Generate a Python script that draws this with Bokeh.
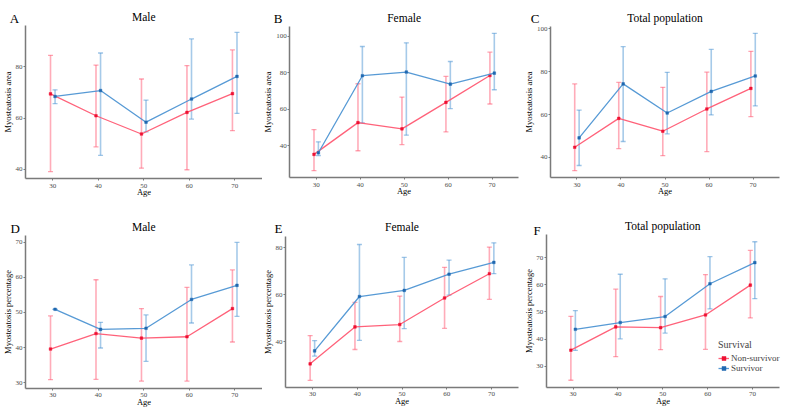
from bokeh.plotting import figure
from bokeh.models import Range1d, Whisker, TeeHead, Label, Legend, LegendItem, FixedTicker, ColumnDataSource
from bokeh.transform import dodge
from bokeh.layouts import column, row
from bokeh.embed import file_html
from bokeh.resources import INLINE

ages = [30, 40, 50, 60, 70]
series_names = ["Non-survivor", "Survivor"]

# A: Male, myosteatosis area
a_ns_mean = [69.4, 60.9, 53.8, 62.2, 69.5]
a_ns_lo = [39.2, 48.8, 40.5, 39.9, 55.1]
a_ns_hi = [84.4, 80.6, 75.2, 80.4, 86.5]
a_s_mean = [68.4, 70.7, 58.4, 67.4, 76.2]
a_s_lo = [65.6, 45.5, 54.6, 59.6, 61.8]
a_s_hi = [71.0, 85.3, 67.0, 90.8, 93.3]

# B: Female, myosteatosis area
b_ns_mean = [35.3, 52.7, 49.3, 63.8, 78.5]
b_ns_lo = [26.4, 37.3, 40.7, 47.6, 62.9]
b_ns_hi = [48.9, 74.0, 66.7, 78.0, 91.3]
b_s_mean = [36.2, 78.4, 80.4, 73.8, 79.8]
b_s_lo = [34.7, 52.5, 45.8, 60.4, 70.7]
b_s_hi = [42.2, 94.4, 96.4, 86.2, 101.6]

# C: Total population, myosteatosis area
c_ns_mean = [44.7, 58.2, 52.2, 62.6, 72.2]
c_ns_lo = [33.8, 44.1, 40.8, 42.7, 59.0]
c_ns_hi = [74.3, 75.0, 72.7, 79.8, 89.5]
c_s_mean = [49.1, 74.3, 60.7, 70.8, 78.0]
c_s_lo = [36.2, 47.4, 51.0, 59.8, 64.0]
c_s_hi = [62.1, 91.7, 79.7, 90.4, 97.9]

# D: Male, myosteatosis percentage
d_ns_mean = [39.6, 44.0, 42.7, 43.1, 51.1]
d_ns_lo = [30.9, 31.0, 30.5, 30.5, 41.6]
d_ns_hi = [49.0, 59.3, 51.1, 57.1, 62.1]
d_s_mean = [50.9, 45.2, 45.5, 53.7, 57.7]
d_s_lo = [50.9, 39.9, 36.1, 47.0, 48.9]
d_s_hi = [50.9, 47.2, 49.3, 63.5, 69.9]

# E: Female, myosteatosis percentage
e_ns_mean = [30.6, 46.3, 47.3, 58.6, 68.9]
e_ns_lo = [23.6, 36.7, 40.1, 45.7, 58.0]
e_ns_hi = [42.6, 56.7, 59.4, 71.6, 80.2]
e_s_mean = [36.1, 59.2, 61.8, 68.7, 73.7]
e_s_lo = [33.9, 40.6, 45.6, 59.8, 68.9]
e_s_hi = [40.5, 81.3, 75.8, 74.7, 82.0]

# F: Total population, myosteatosis percentage
f_ns_mean = [35.9, 44.5, 44.2, 48.9, 59.9]
f_ns_lo = [24.8, 33.5, 36.1, 36.2, 47.8]
f_ns_hi = [48.4, 58.4, 55.7, 63.8, 72.7]
f_s_mean = [43.6, 46.1, 48.3, 60.4, 68.2]
f_s_lo = [35.8, 40.1, 42.2, 51.1, 54.9]
f_s_hi = [50.5, 63.9, 62.2, 70.4, 75.9]

ticks_area_a = [40, 60, 80]
ticks_area_bc = [40, 60, 80, 100]
ticks_pct_df = [30, 40, 50, 60, 70]
ticks_pct_e = [40, 60, 80]

X_LO, X_HI = 24, 76          # panel x extent (age)
FONT = "Liberation Serif"
LINE_COLORS = ["#FF5A73", "#4E95D3"]
PT_COLORS = ["#EE1133", "#2068B0"]
OFFSETS = [-0.5, 0.5]


def make_panel(letter, title, ylabel, yticks, ns, s, W, H, box, title_y, letter_xy,
               legend_loc=None):
    # box = (left, right, top, bottom) of the data panel in local pixels
    L, R, T, B = box
    vals = ns[1] + ns[2] + s[1] + s[2]
    lo, hi = min(vals), max(vals)
    pad = 0.05 * (hi - lo)
    y_lo, y_hi = lo - pad, hi + pad
    kx = (X_HI - X_LO) / (R - L)
    ky = (y_hi - y_lo) / (B - T)
    p = figure(width=W, height=H,
               x_range=Range1d(X_LO - L * kx, X_HI + (W - R) * kx),
               y_range=Range1d(y_lo - (H - B) * ky, y_hi + T * ky),
               output_backend="svg", toolbar_location=None, title_location=None,
               min_border=0, min_border_left=0, min_border_right=0,
               min_border_top=0, min_border_bottom=0)
    p.outline_line_color = None
    p.background_fill_color = "white"
    p.border_fill_color = "white"
    p.xgrid.visible = False
    p.ygrid.visible = False

    for ax in (p.xaxis[0], p.yaxis[0]):
        ax.axis_line_color = "#7A7A7A"
        ax.axis_line_width = 1.5
        ax.major_tick_line_color = "#7A7A7A"
        ax.major_tick_out = 2
        ax.major_tick_in = 0
        ax.minor_tick_line_color = None
        ax.major_label_text_font = FONT
        ax.major_label_text_font_size = "7px"
        ax.major_label_text_color = "#4D4D4D"
        ax.axis_label_text_font = FONT
        ax.axis_label_text_font_size = "8.5px"
        ax.axis_label_text_font_style = "normal"
        ax.axis_label_text_color = "black"
    xa, ya = p.xaxis[0], p.yaxis[0]
    xa.ticker = FixedTicker(ticks=ages)
    ya.ticker = FixedTicker(ticks=yticks)
    xa.axis_label = "Age"
    ya.axis_label = ylabel
    xa.fixed_location = y_lo
    xa.bounds = (X_LO, X_HI)
    ya.fixed_location = X_LO
    ya.bounds = (y_lo, y_hi)
    xa.major_label_standoff = 3
    xa.axis_label_standoff = -4
    ya.major_label_standoff = 1
    ya.axis_label_standoff = 0

    items = []
    for (mean, low, high), name, lc, pc, off in zip((ns, s), series_names,
                                                    LINE_COLORS, PT_COLORS, OFFSETS):
        src = ColumnDataSource(dict(age=ages, mean=mean, lo=low, hi=high))
        xs = dodge("age", off)
        w = Whisker(source=src, base=xs, lower="lo", upper="hi",
                    line_color=lc, line_alpha=0.5, line_width=1.6,
                    upper_head=TeeHead(size=5, line_color=lc, line_alpha=0.55, line_width=1.3),
                    lower_head=TeeHead(size=5, line_color=lc, line_alpha=0.55, line_width=1.3))
        p.add_layout(w)
        lr = p.line(x=xs, y="mean", source=src, line_color=lc, line_width=1.3, line_alpha=0.95)
        sr = p.scatter(x=xs, y="mean", source=src, marker="square", size=2.6,
                       fill_color=pc, line_color=pc, line_width=0.5)
        items.append(LegendItem(label=name, renderers=[lr, sr]))

    p.add_layout(Label(x=(L + R) / 2, y=H - title_y, x_units="screen", y_units="screen",
                       text=title, text_font=FONT, text_font_size="11.5px",
                       text_color="black", text_align="center", text_baseline="middle"))
    p.add_layout(Label(x=letter_xy[0], y=H - letter_xy[1], x_units="screen", y_units="screen",
                       text=letter, text_font=FONT, text_font_size="13px",
                       text_color="black", text_align="center", text_baseline="middle"))

    if legend_loc is not None:
        lg = Legend(items=items, location=legend_loc, title="Survival")
        lg.background_fill_color = "white"
        lg.background_fill_alpha = 1.0
        lg.border_line_color = None
        lg.title_text_font = FONT
        lg.title_text_font_size = "10px"
        lg.title_text_font_style = "normal"
        lg.title_standoff = 3
        lg.label_text_font = FONT
        lg.label_text_font_size = "9px"
        lg.glyph_width = 11
        lg.glyph_height = 10
        lg.label_height = 10
        lg.label_standoff = 2
        lg.spacing = 0
        lg.padding = 6
        lg.margin = 0
        p.add_layout(lg)
    return p


pA = make_panel("A", "Male", "Myosteatosis area", ticks_area_a,
                (a_ns_mean, a_ns_lo, a_ns_hi), (a_s_mean, a_s_lo, a_s_hi),
                262, 205, (25, 261.5, 25, 178), 16, (14, 18.3))
pB = make_panel("B", "Female", "Myosteatosis area", ticks_area_bc,
                (b_ns_mean, b_ns_lo, b_ns_hi), (b_s_mean, b_s_lo, b_s_hi),
                263, 205, (27.3, 256, 26, 177), 17, (15.7, 18))
pC = make_panel("C", "Total population", "Myosteatosis area", ticks_area_bc,
                (c_ns_mean, c_ns_lo, c_ns_hi), (c_s_mean, c_s_lo, c_s_hi),
                264, 205, (25, 254, 26, 177), 17, (9.5, 17.5))
pD = make_panel("D", "Male", "Myosteatosis percentage", ticks_pct_df,
                (d_ns_mean, d_ns_lo, d_ns_hi), (d_s_mean, d_s_lo, d_s_hi),
                262, 204, (25, 261.5, 30, 182.5), 21.7, (14.7, 23.3))
pE = make_panel("E", "Female", "Myosteatosis percentage", ticks_pct_e,
                (e_ns_mean, e_ns_lo, e_ns_hi), (e_s_mean, e_s_lo, e_s_hi),
                263, 204, (23, 256, 30.5, 181.7), 21.7, (16, 23.3))
pF = make_panel("F", "Total population", "Myosteatosis percentage", ticks_pct_df,
                (f_ns_mean, f_ns_lo, f_ns_hi), (f_s_mean, f_s_lo, f_s_hi),
                264, 204, (20.7, 254, 29.3, 181.7), 20.7, (11.7, 25),
                legend_loc=(193, 36))

layout = column(row(pA, pB, pC), row(pD, pE, pF))
open("out.html", "w").write(file_html(layout, INLINE))
